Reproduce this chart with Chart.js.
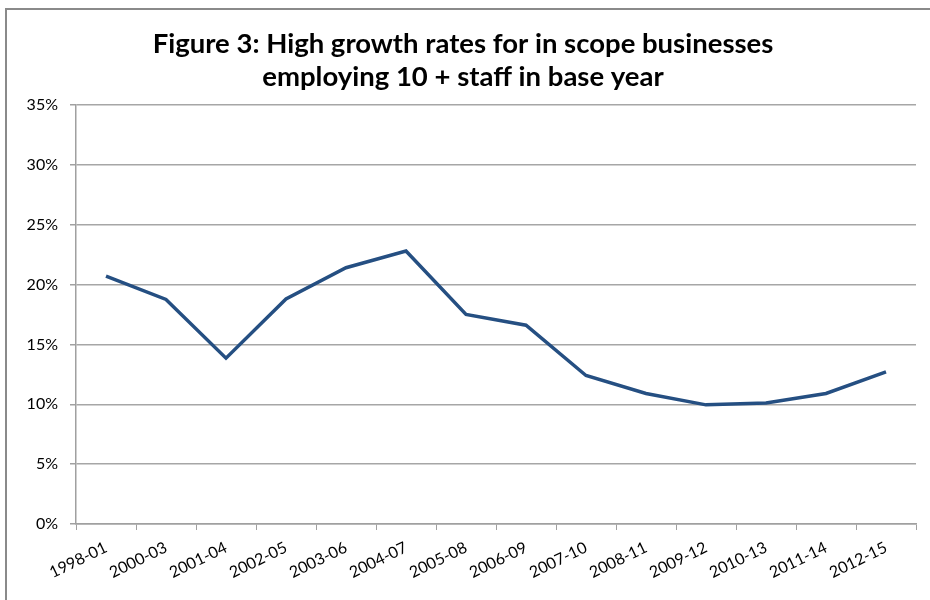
<!DOCTYPE html>
<html>
<head>
<meta charset="utf-8">
<script src="https://cdn.jsdelivr.net/npm/chart.js@4"></script>
<style>
  html, body { margin: 0; padding: 0; background: #fff; }
  #wrap { position: relative; width: 930px; height: 600px; overflow: hidden; }
  #frame { position: absolute; left: 5px; top: 8px; width: 940px; height: 620px;
           border-left: 2px solid #8a8a8a; border-top: 2px solid #8a8a8a; box-sizing: border-box; }
  canvas { position: absolute; left: 0; top: 0; }
</style>
</head>
<body>
<div id="wrap">
  <div id="frame"></div>
  <canvas id="c" width="930" height="600"></canvas>
</div>
<script>
const titleLines = ["Figure 3: High growth rates for in scope businesses", "employing 10 + staff in base year"];
const categories = ["1998-01","2000-03","2001-04","2002-05","2003-06","2004-07","2005-08","2006-09","2007-10","2008-11","2009-12","2010-13","2011-14","2012-15"];
const growthRates = [20.7, 18.75, 13.85, 18.8, 21.4, 22.8, 17.5, 16.6, 12.4, 10.9, 9.95, 10.1, 10.9, 12.7];
const yTicks = [0, 5, 10, 15, 20, 25, 30, 35];

const FONT = "Lato, 'Open Sans', sans-serif";
Chart.defaults.font.family = FONT;
Chart.defaults.font.size = 16;
Chart.defaults.color = '#000';

new Chart(document.getElementById('c'), {
  type: 'line',
  data: {
    labels: categories,
    datasets: [{
      data: growthRates,
      borderColor: '#254F82',
      borderWidth: 3.5,
      pointRadius: 0,
      pointHoverRadius: 0,
      tension: 0,
      fill: false
    }]
  },
  options: {
    responsive: false,
    animation: false,
    layout: { padding: { left: 10, right: 14, top: 0, bottom: 0 } },
    plugins: {
      legend: { display: false },
      tooltip: { enabled: false },
      title: {
        display: true,
        text: titleLines,
        color: '#000',
        font: { family: FONT, size: 27.5, weight: 'bold', lineHeight: 1.18 },
        padding: { top: 28, bottom: 12 }
      }
    },
    scales: {
      x: {
        offset: true,
        afterFit: s => { s.height = 76; },
        grid: { display: true, drawOnChartArea: false, offset: true, color: '#a0a0a0', tickLength: 6, tickColor: '#a0a0a0' },
        border: { color: '#a0a0a0', width: 1.5 },
        ticks: { color: '#000', font: { family: FONT, size: 16 }, minRotation: 26, maxRotation: 26, autoSkip: false, padding: 8 }
      },
      y: {
        min: 0, max: 35,
        afterBuildTicks: s => { s.ticks = yTicks.map(v => ({ value: v })); },
        afterFit: s => { s.width = 66; },
        grid: { color: '#a6a6a6', lineWidth: 1.5, tickLength: 6, tickColor: '#a0a0a0' },
        border: { color: '#a0a0a0', width: 1.5 },
        ticks: { color: '#000', font: { family: FONT, size: 16 }, padding: 12, callback: v => v + '%' }
      }
    }
  }
});
</script>
</body>
</html>
